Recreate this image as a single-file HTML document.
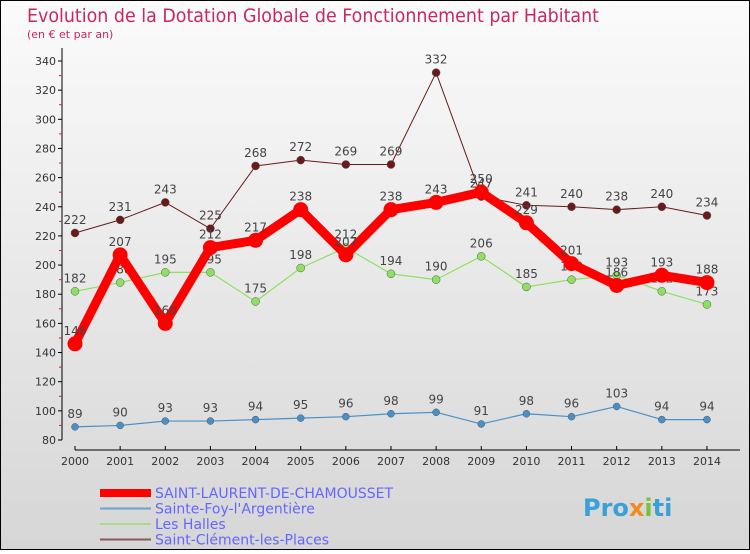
<!DOCTYPE html>
<html><head><meta charset="utf-8"><style>
body{margin:0;width:750px;height:550px;overflow:hidden;font-family:"DejaVu Sans","Liberation Sans",sans-serif}
</style></head><body>
<svg id="chart" width="750" height="550" xmlns="http://www.w3.org/2000/svg">
<defs><linearGradient id="bg" x1="0" y1="0" x2="0" y2="1"><stop offset="0" stop-color="#fbfbfb"/><stop offset="1" stop-color="#d6d6d6"/></linearGradient></defs>
<rect x="0.5" y="0.5" width="749" height="549" fill="url(#bg)" stroke="#000"/>
<text x="27" y="22" font-size="19" fill="#c8285a" textLength="572" lengthAdjust="spacingAndGlyphs">Evolution de la Dotation Globale de Fonctionnement par Habitant</text>
<text x="27" y="38" font-size="11" fill="#c8285a">(en € et par an)</text>
<g id="axes"></g><g id="series"></g><g id="legend"></g>
<text x="583" y="516" font-size="24" font-weight="bold"><tspan fill="#3aa0d8">Pro</tspan><tspan fill="#f08c1e">x</tspan><tspan fill="#7cc040">i</tspan><tspan fill="#3aa0d8">ti</tspan></text>
</svg>
<script>
const years=[2000,2001,2002,2003,2004,2005,2006,2007,2008,2009,2010,2011,2012,2013,2014];
const yTicks=[80,100,120,140,160,180,200,220,240,260,280,300,320,340];
const stLaurent=[146,207,160,212,217,238,207,238,243,250,229,201,186,193,188];
const steFoy=[89,90,93,93,94,95,96,98,99,91,98,96,103,94,94];
const lesHalles=[182,188,195,195,175,198,212,194,190,206,185,190,193,182,173];
const stClement=[222,231,243,225,268,272,269,269,332,247,241,240,238,240,234];
const NS="http://www.w3.org/2000/svg";
const X=i=>75+i*45.14, Y=v=>440-(v-80)*379/260;
function mk(t,a,p){const e=document.createElementNS(NS,t);for(const k in a)e.setAttribute(k,a[k]);p.appendChild(e);return e;}
const ax=document.getElementById('axes');
let l=mk('line',{x1:62,y1:48,x2:62,y2:440,stroke:'#000'},ax);


l=mk('line',{x1:75,y1:450,x2:740,y2:450,stroke:'#000'},ax);


yTicks.forEach(v=>{
 mk('line',{x1:58,y1:Y(v),x2:62,y2:Y(v),stroke:'#000'},ax);
 if(v<340) mk('line',{x1:59,y1:Y(v+10),x2:62,y2:Y(v+10),stroke:'#e02020'},ax);
 const t=mk('text',{x:56,y:Y(v)+4,'font-size':11,fill:'#333','text-anchor':'end'},ax);t.textContent=v;
 
 
});
years.forEach((yr,i)=>{
 mk('line',{x1:X(i),y1:446,x2:X(i),y2:450,stroke:'#000'},ax);
 const t=mk('text',{x:X(i),y:465,'font-size':11,fill:'#333','text-anchor':'middle'},ax);t.textContent=yr;
 
 
});
const S=document.getElementById('series');
const defs=[
 {d:stClement,c:'#6b1a1a',w:1,r:4,n:'saint-clement'},
 {d:lesHalles,c:'#8ee060',w:1.2,r:4,n:'les-halles'},
 {d:steFoy,c:'#4a90c8',w:1.2,r:3.5,n:'sainte-foy'},
 {d:stLaurent,c:'#ff0000',w:9,r:7.5,n:'saint-laurent'}];
defs.forEach(s=>{
 const g=mk('g',{},S);
 
 
 const p=mk('polyline',{points:s.d.map((v,i)=>X(i)+','+Y(v)).join(' '),fill:'none',stroke:s.c,'stroke-width':s.w,'stroke-linejoin':'round'},g);
 
 
 s.d.forEach((v,i)=>{
  const c=mk('circle',{cx:X(i),cy:Y(v),r:s.r,fill:s.c,stroke:s.w<2?'#555':'none','stroke-width':0.5},g);
  
  
  const t=mk('text',{x:X(i),y:Y(v)-9,'font-size':12,fill:'#444','text-anchor':'middle'},g);t.textContent=v;
  
  
 });
});
const L=document.getElementById('legend');
const leg=[['SAINT-LAURENT-DE-CHAMOUSSET','#ff0000',8],['Sainte-Foy-l\'Argentière','#6fa0cc',2],['Les Halles','#a8dc88',2],['Saint-Clément-les-Places','#8a5a5a',2]];
leg.forEach((e,i)=>{
 const y=493+i*15.5;
 const g=mk('g',{},L);
 
 
 mk('line',{x1:100,y1:y,x2:151,y2:y,stroke:e[1],'stroke-width':e[2]},g);
 const t=mk('text',{x:155,y:y+5,'font-size':14,fill:'#6666ff'},g);t.textContent=e[0];
});
</script>
</body></html>
